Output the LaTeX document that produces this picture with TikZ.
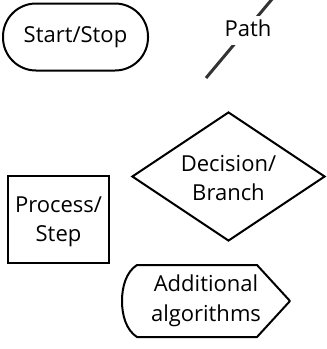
\documentclass[tikz,border=0pt]{standalone}
\usepackage{fontspec}
\setmainfont{Open Sans}
\usetikzlibrary{shapes.geometric}
\definecolor{pathgray}{HTML}{333333}
\tikzset{
  shapeline/.style={draw=black, line width=2pt},
  lbl/.style={font=\fontsize{22}{29.5}\selectfont, align=center, text=black},
}
\begin{document}
\begin{tikzpicture}[x=1pt, y=-1pt]
\useasboundingbox (0,0) rectangle (327,349);
\clip (0,0) rectangle (327,349);
% Start/Stop
\node[shapeline, lbl, rectangle, rounded corners=33pt, minimum width=145pt, minimum height=67pt, inner sep=0pt] (start) at (75.5,37) {Start/Stop};
% Path
\coordinate (pa) at (206,78);
\coordinate (pb) at (278,-8);
\draw[pathgray, line width=3pt] (pa) -- (pb);
\node[lbl, fill=white, inner sep=3.5pt, text height=17pt, text depth=5pt, anchor=base] (pathlbl) at (248,36) {Path};
% Decision
\node[shapeline, lbl, diamond, minimum width=193pt, minimum height=129pt, inner sep=0pt] (dec) at (228.5,176.5) {};
\node[lbl] (dectext) at (228.5,178) {Decision/\\Branch};
% Process
\node[shapeline, rectangle, minimum width=101pt, minimum height=87pt, inner sep=0pt] (proc) at (58.5,219.5) {};
\node[lbl] (proctext) at (58.5,222) {Process/\\Step};
% Additional algorithms
\draw[shapeline, line join=round] (137,265) -- (257,265) -- (290,301) -- (257,337) -- (137,337)
  .. controls (126,330) and (122,315) .. (122,301)
  .. controls (122,287) and (126,272) .. (137,265) -- cycle;
\node[lbl] (alg) at (206,301) {Additional\\algorithms};
\end{tikzpicture}
\end{document}
